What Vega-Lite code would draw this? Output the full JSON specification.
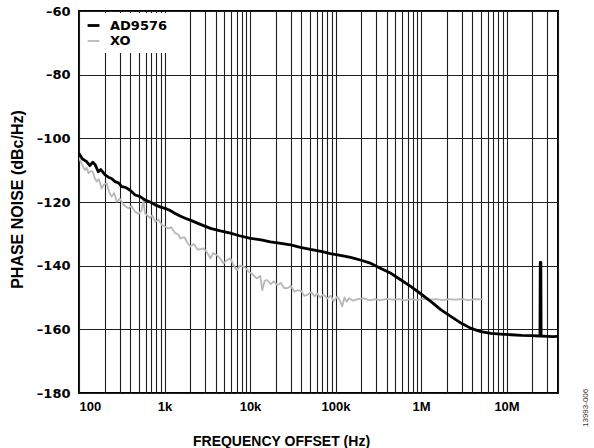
{
  "$schema": "https://vega.github.io/schema/vega-lite/v6.json",
  "width": 479,
  "height": 382,
  "autosize": {"type": "none"},
  "padding": {"left": 79, "top": 11, "right": 36, "bottom": 55},
  "background": "white",
  "title": {"text": "13993-006", "orient": "right", "anchor": "end", "frame": "group", "angle": -90, "fontSize": 8, "font": "Liberation Sans", "fontWeight": "normal", "color": "#333333", "offset": 22, "align": "left", "baseline": "alphabetic", "dx": -34},
  "data": {"values": [
    {"s":"XO","f":100,"v":-106.0},{"s":"XO","f":105,"v":-107.5},{"s":"XO","f":110,"v":-108.6},{"s":"XO","f":117,"v":-110.0},{"s":"XO","f":123,"v":-109.2},{"s":"XO","f":129,"v":-111.0},{"s":"XO","f":137,"v":-110.3},{"s":"XO","f":145,"v":-110.5},{"s":"XO","f":153,"v":-112.5},{"s":"XO","f":161,"v":-113.6},{"s":"XO","f":170,"v":-112.8},{"s":"XO","f":184,"v":-115.7},{"s":"XO","f":195,"v":-114.5},{"s":"XO","f":211,"v":-114.1},{"s":"XO","f":225,"v":-116.8},{"s":"XO","f":241,"v":-118.3},{"s":"XO","f":258,"v":-117.2},{"s":"XO","f":277,"v":-119.9},{"s":"XO","f":300,"v":-119.0},{"s":"XO","f":330,"v":-120.8},{"s":"XO","f":355,"v":-121.5},{"s":"XO","f":379,"v":-122.0},{"s":"XO","f":410,"v":-121.2},{"s":"XO","f":454,"v":-123.1},{"s":"XO","f":500,"v":-123.8},{"s":"XO","f":540,"v":-122.5},{"s":"XO","f":567,"v":-119.4},{"s":"XO","f":590,"v":-123.5},{"s":"XO","f":620,"v":-124.1},{"s":"XO","f":680,"v":-125.0},{"s":"XO","f":720,"v":-124.2},{"s":"XO","f":780,"v":-126.2},{"s":"XO","f":850,"v":-125.5},{"s":"XO","f":930,"v":-127.2},{"s":"XO","f":1000,"v":-127.6},{"s":"XO","f":1110,"v":-128.3},{"s":"XO","f":1200,"v":-127.9},{"s":"XO","f":1334,"v":-129.8},{"s":"XO","f":1450,"v":-130.2},{"s":"XO","f":1525,"v":-131.4},{"s":"XO","f":1700,"v":-131.0},{"s":"XO","f":1850,"v":-132.8},{"s":"XO","f":2000,"v":-134.0},{"s":"XO","f":2200,"v":-133.2},{"s":"XO","f":2450,"v":-135.0},{"s":"XO","f":2850,"v":-134.6},{"s":"XO","f":3100,"v":-135.6},{"s":"XO","f":3450,"v":-137.7},{"s":"XO","f":3700,"v":-136.0},{"s":"XO","f":4100,"v":-136.7},{"s":"XO","f":4500,"v":-137.8},{"s":"XO","f":4900,"v":-139.3},{"s":"XO","f":5400,"v":-138.2},{"s":"XO","f":5900,"v":-137.7},{"s":"XO","f":6400,"v":-139.8},{"s":"XO","f":7000,"v":-141.4},{"s":"XO","f":7600,"v":-140.0},{"s":"XO","f":8500,"v":-140.3},{"s":"XO","f":9100,"v":-141.0},{"s":"XO","f":9600,"v":-141.9},{"s":"XO","f":10500,"v":-142.5},{"s":"XO","f":12000,"v":-144.0},{"s":"XO","f":13200,"v":-143.2},{"s":"XO","f":13900,"v":-147.7},{"s":"XO","f":14800,"v":-144.8},{"s":"XO","f":15800,"v":-144.5},{"s":"XO","f":17500,"v":-145.8},{"s":"XO","f":19000,"v":-144.9},{"s":"XO","f":20900,"v":-146.1},{"s":"XO","f":23000,"v":-145.4},{"s":"XO","f":25000,"v":-147.0},{"s":"XO","f":27300,"v":-147.1},{"s":"XO","f":30000,"v":-146.4},{"s":"XO","f":33000,"v":-148.2},{"s":"XO","f":35600,"v":-147.7},{"s":"XO","f":40000,"v":-148.0},{"s":"XO","f":43000,"v":-149.5},{"s":"XO","f":46600,"v":-149.2},{"s":"XO","f":52000,"v":-148.3},{"s":"XO","f":57000,"v":-149.6},{"s":"XO","f":61000,"v":-148.7},{"s":"XO","f":66000,"v":-150.0},{"s":"XO","f":72000,"v":-149.0},{"s":"XO","f":80000,"v":-150.3},{"s":"XO","f":88000,"v":-149.4},{"s":"XO","f":95000,"v":-151.2},{"s":"XO","f":105000,"v":-149.7},{"s":"XO","f":112000,"v":-150.8},{"s":"XO","f":120000,"v":-152.8},{"s":"XO","f":127000,"v":-150.0},{"s":"XO","f":135000,"v":-151.3},{"s":"XO","f":145000,"v":-150.2},{"s":"XO","f":160000,"v":-151.0},{"s":"XO","f":180000,"v":-150.5},{"s":"XO","f":215000,"v":-150.3},{"s":"XO","f":250000,"v":-150.9},{"s":"XO","f":290000,"v":-150.5},{"s":"XO","f":340000,"v":-150.8},{"s":"XO","f":400000,"v":-150.4},{"s":"XO","f":470000,"v":-150.7},{"s":"XO","f":550000,"v":-150.5},{"s":"XO","f":650000,"v":-150.9},{"s":"XO","f":760000,"v":-150.5},{"s":"XO","f":900000,"v":-150.8},{"s":"XO","f":1050000,"v":-150.4},{"s":"XO","f":1250000,"v":-150.7},{"s":"XO","f":1500000,"v":-150.5},{"s":"XO","f":1800000,"v":-150.8},{"s":"XO","f":2100000,"v":-150.5},{"s":"XO","f":2500000,"v":-150.7},{"s":"XO","f":3000000,"v":-150.5},{"s":"XO","f":3600000,"v":-150.8},{"s":"XO","f":4300000,"v":-150.5},{"s":"XO","f":5300000,"v":-150.6},
    {"s":"AD9576","f":100,"v":-104.8},{"s":"AD9576","f":110,"v":-106.5},{"s":"AD9576","f":123,"v":-107.3},{"s":"AD9576","f":134,"v":-108.6},{"s":"AD9576","f":145,"v":-107.5},{"s":"AD9576","f":154,"v":-108.2},{"s":"AD9576","f":168,"v":-110.5},{"s":"AD9576","f":180,"v":-109.8},{"s":"AD9576","f":202,"v":-111.5},{"s":"AD9576","f":221,"v":-112.2},{"s":"AD9576","f":240,"v":-112.6},{"s":"AD9576","f":264,"v":-113.6},{"s":"AD9576","f":290,"v":-114.0},{"s":"AD9576","f":316,"v":-115.2},{"s":"AD9576","f":350,"v":-115.4},{"s":"AD9576","f":396,"v":-116.3},{"s":"AD9576","f":454,"v":-117.8},{"s":"AD9576","f":520,"v":-118.3},{"s":"AD9576","f":594,"v":-119.4},{"s":"AD9576","f":680,"v":-120.0},{"s":"AD9576","f":780,"v":-120.9},{"s":"AD9576","f":900,"v":-121.6},{"s":"AD9576","f":1019,"v":-122.0},{"s":"AD9576","f":1150,"v":-122.6},{"s":"AD9576","f":1334,"v":-123.6},{"s":"AD9576","f":1500,"v":-124.3},{"s":"AD9576","f":1745,"v":-125.1},{"s":"AD9576","f":2000,"v":-125.7},{"s":"AD9576","f":2500,"v":-126.8},{"s":"AD9576","f":3450,"v":-128.3},{"s":"AD9576","f":4500,"v":-129.1},{"s":"AD9576","f":5900,"v":-129.8},{"s":"AD9576","f":7500,"v":-130.6},{"s":"AD9576","f":10100,"v":-131.4},{"s":"AD9576","f":13500,"v":-131.9},{"s":"AD9576","f":17300,"v":-132.5},{"s":"AD9576","f":23000,"v":-133.0},{"s":"AD9576","f":29700,"v":-133.5},{"s":"AD9576","f":40000,"v":-134.3},{"s":"AD9576","f":50900,"v":-134.9},{"s":"AD9576","f":70000,"v":-135.6},{"s":"AD9576","f":87000,"v":-136.2},{"s":"AD9576","f":114000,"v":-136.8},{"s":"AD9576","f":150000,"v":-137.4},{"s":"AD9576","f":200000,"v":-138.3},{"s":"AD9576","f":260000,"v":-139.3},{"s":"AD9576","f":330000,"v":-140.7},{"s":"AD9576","f":445000,"v":-142.4},{"s":"AD9576","f":560000,"v":-144.2},{"s":"AD9576","f":764000,"v":-146.6},{"s":"AD9576","f":1000000,"v":-148.9},{"s":"AD9576","f":1310000,"v":-151.3},{"s":"AD9576","f":1700000,"v":-153.8},{"s":"AD9576","f":2250000,"v":-156.0},{"s":"AD9576","f":3000000,"v":-158.2},{"s":"AD9576","f":3850000,"v":-159.7},{"s":"AD9576","f":5000000,"v":-160.7},{"s":"AD9576","f":6600000,"v":-161.3},{"s":"AD9576","f":8500000,"v":-161.5},{"s":"AD9576","f":11300000,"v":-161.7},{"s":"AD9576","f":15000000,"v":-161.9},{"s":"AD9576","f":19400000,"v":-162.0},{"s":"AD9576","f":24600000,"v":-162.1},{"s":"AD9576","f":24800000,"v":-139.0},{"s":"AD9576","f":25200000,"v":-139.0},{"s":"AD9576","f":25400000,"v":-162.1},{"s":"AD9576","f":30000000,"v":-162.2},{"s":"AD9576","f":35000000,"v":-162.3},{"s":"AD9576","f":40000000,"v":-162.2}
  ]},
  "mark": {"type": "line", "interpolate": "linear", "strokeJoin": "round", "strokeCap": "butt", "clip": true},
  "encoding": {
    "x": {"field": "f", "type": "quantitative",
      "scale": {"type": "log", "domain": [100, 40000000], "nice": false},
      "axis": {
        "values": [100,200,300,400,500,600,700,800,900,1000,2000,3000,4000,5000,6000,7000,8000,9000,10000,20000,30000,40000,50000,60000,70000,80000,90000,100000,200000,300000,400000,500000,600000,700000,800000,900000,1000000,2000000,3000000,4000000,5000000,6000000,7000000,8000000,9000000,10000000,20000000,30000000,40000000],
        "labelExpr": "datum.value == 100 ? '100' : datum.value == 1000 ? '1k' : datum.value == 10000 ? '10k' : datum.value == 100000 ? '100k' : datum.value == 1000000 ? '1M' : datum.value == 10000000 ? '10M' : ''",
        "labelOverlap": false,
        "labelFont": "Liberation Sans", "labelFontWeight": "bold", "labelFontSize": 13, "labelColor": "#000",
        "labelPadding": 7, "labelBaseline": "top",
        "ticks": false, "tickSize": 0, "domain": false,
        "grid": true, "gridColor": "#1e1e1e", "gridWidth": 1.1, "gridOpacity": 1,
        "title": "FREQUENCY OFFSET (Hz)",
        "titleFont": "Liberation Sans", "titleFontWeight": "bold", "titleFontSize": 14, "titleColor": "#000",
        "titleX": 202, "titleY": 52, "titleAlign": "center", "titleBaseline": "alphabetic"
      }
    },
    "y": {"field": "v", "type": "quantitative",
      "scale": {"domain": [-180, -60], "nice": false, "zero": false},
      "axis": {
        "values": [-180,-160,-140,-120,-100,-80,-60],
        "labelExpr": "'–' + abs(datum.value)",
        "labelFont": "DejaVu Sans", "labelFontWeight": "bold", "labelFontSize": 13, "labelColor": "#000",
        "labelPadding": 9,
        "ticks": false, "tickSize": 0, "domain": false,
        "grid": true, "gridColor": "#1e1e1e", "gridWidth": 1.1, "gridOpacity": 1,
        "title": "PHASE NOISE (dBc/Hz)",
        "titleFont": "Liberation Sans", "titleFontWeight": "bold", "titleFontSize": 16, "titleColor": "#000",
        "titleX": -57, "titleY": 188, "titleAngle": -90, "titleAlign": "center", "titleBaseline": "alphabetic"
      }
    },
    "color": {"field": "s", "type": "nominal",
      "scale": {"domain": ["AD9576", "XO"], "range": ["#000000", "#b8b8b8"]},
      "legend": {
        "title": null, "orient": "top-left", "offset": 2, "padding": 5,
        "fillColor": "white", "strokeColor": null,
        "symbolType": "stroke", "symbolSize": 140, "symbolStrokeWidth": 2.5,
        "labelFont": "DejaVu Sans", "labelFontWeight": "bold", "labelFontSize": 13, "labelColor": "#000",
        "labelOffset": 9, "rowPadding": 1
      }
    },
    "strokeWidth": {"field": "s", "type": "nominal",
      "scale": {"domain": ["AD9576", "XO"], "range": [2.8, 1.8]},
      "legend": {
        "title": null, "orient": "top-left", "offset": 2, "padding": 5,
        "fillColor": "white", "strokeColor": null,
        "symbolType": "stroke", "symbolSize": 140,
        "labelFont": "DejaVu Sans", "labelFontWeight": "bold", "labelFontSize": 13, "labelColor": "#000",
        "labelOffset": 9, "rowPadding": 1
      }
    }
  },
  "config": {
    "view": {"stroke": "#000000", "strokeWidth": 2},
    "font": "Liberation Sans"
  }
}
